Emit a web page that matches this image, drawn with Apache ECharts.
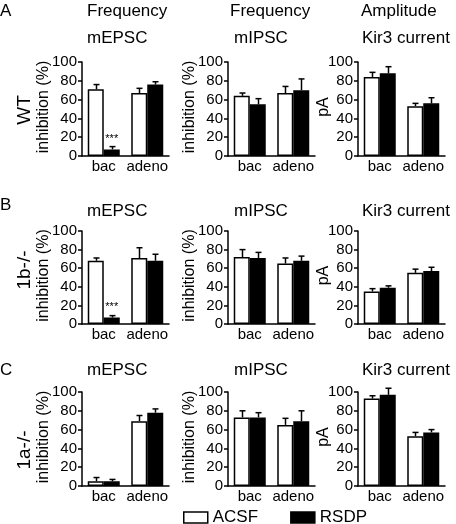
<!DOCTYPE html>
<html>
<head>
<meta charset="utf-8">
<script src="https://cdn.jsdelivr.net/npm/echarts@6/dist/echarts.min.js"></script>
<style>
html,body{margin:0;padding:0;background:#fff;}
#c{width:456px;height:524px;}
</style>
</head>
<body>
<div id="c"></div>
<script>
const categories = ['bac', 'adeno'];
const yTicks = [0, 20, 40, 60, 80, 100];
const seriesNames = ['ACSF', 'RSDP'];

// Row A (WT)
const wtEpscAcsf = [71, 67], wtEpscAcsfErr = [5, 5];
const wtEpscRsdp = [7, 76], wtEpscRsdpErr = [3, 3];
const wtIpscAcsf = [64, 67], wtIpscAcsfErr = [3, 7];
const wtIpscRsdp = [55, 70], wtIpscRsdpErr = [6, 12];
const wtKirAcsf = [84, 53], wtKirAcsfErr = [5, 3];
const wtKirRsdp = [88, 56], wtKirRsdpErr = [7, 6];
// Row B (1b-/-)
const b1EpscAcsf = [68, 71], b1EpscAcsfErr = [3, 11];
const b1EpscRsdp = [7, 68], b1EpscRsdpErr = [2, 7];
const b1IpscAcsf = [72, 65], b1IpscAcsfErr = [8, 6];
const b1IpscRsdp = [71, 68], b1IpscRsdpErr = [6, 5];
const b1KirAcsf = [35, 55], b1KirAcsfErr = [3, 4];
const b1KirRsdp = [39, 57], b1KirRsdpErr = [2, 4];
// Row C (1a-/-)
const a1EpscAcsf = [5, 69], a1EpscAcsfErr = [4, 6];
const a1EpscRsdp = [5, 78], a1EpscRsdpErr = [2, 4];
const a1IpscAcsf = [73, 65], a1IpscAcsfErr = [7, 7];
const a1IpscRsdp = [73, 69], a1IpscRsdpErr = [5, 11];
const a1KirAcsf = [93, 53], a1KirAcsfErr = [3, 4];
const a1KirRsdp = [97, 57], a1KirRsdpErr = [7, 3];

const FONT = "'Liberation Sans', Arial, sans-serif";

const colLefts = [82, 228, 358];
const colWidth = 87;
const rowTops = [62, 231, 392];
const rowHeights = [94, 93, 94];

const panels = [
  {r:0,c:0,acsf:wtEpscAcsf,acsfErr:wtEpscAcsfErr,rsdp:wtEpscRsdp,rsdpErr:wtEpscRsdpErr,star:true},
  {r:0,c:1,acsf:wtIpscAcsf,acsfErr:wtIpscAcsfErr,rsdp:wtIpscRsdp,rsdpErr:wtIpscRsdpErr},
  {r:0,c:2,acsf:wtKirAcsf,acsfErr:wtKirAcsfErr,rsdp:wtKirRsdp,rsdpErr:wtKirRsdpErr},
  {r:1,c:0,acsf:b1EpscAcsf,acsfErr:b1EpscAcsfErr,rsdp:b1EpscRsdp,rsdpErr:b1EpscRsdpErr,star:true},
  {r:1,c:1,acsf:b1IpscAcsf,acsfErr:b1IpscAcsfErr,rsdp:b1IpscRsdp,rsdpErr:b1IpscRsdpErr},
  {r:1,c:2,acsf:b1KirAcsf,acsfErr:b1KirAcsfErr,rsdp:b1KirRsdp,rsdpErr:b1KirRsdpErr},
  {r:2,c:0,acsf:a1EpscAcsf,acsfErr:a1EpscAcsfErr,rsdp:a1EpscRsdp,rsdpErr:a1EpscRsdpErr},
  {r:2,c:1,acsf:a1IpscAcsf,acsfErr:a1IpscAcsfErr,rsdp:a1IpscRsdp,rsdpErr:a1IpscRsdpErr},
  {r:2,c:2,acsf:a1KirAcsf,acsfErr:a1KirAcsfErr,rsdp:a1KirRsdp,rsdpErr:a1KirRsdpErr}
];

const BAR_W = 16;
const grids = [], xAxes = [], yAxes = [], series = [];

function errorSeries(idx, vals, errs, offset) {
  return {
    type: 'custom', xAxisIndex: idx, yAxisIndex: idx, silent: true, z: 1,
    data: vals.map((v, i) => [i, v, errs[i]]),
    renderItem: function (params, api) {
      const p0 = api.coord([api.value(0), api.value(1)]);
      const p1 = api.coord([api.value(0), api.value(1) + api.value(2)]);
      const x = Math.round(p0[0] + offset) + 0.5;
      return {
        type: 'group',
        children: [
          {type: 'line', shape: {x1: x, y1: p0[1], x2: x, y2: p1[1]}, style: {stroke: '#000', lineWidth: 1.5}},
          {type: 'line', shape: {x1: x - 3, y1: p1[1], x2: x + 3, y2: p1[1]}, style: {stroke: '#000', lineWidth: 1.5}}
        ]
      };
    }
  };
}

panels.forEach((p, idx) => {
  grids.push({left: colLefts[p.c], top: rowTops[p.r], width: colWidth, height: rowHeights[p.r], containLabel: false});
  xAxes.push({
    type: 'category', gridIndex: idx, data: categories,
    axisLine: {lineStyle: {color: '#000', width: 1.5}},
    axisTick: {show: false},
    axisLabel: {color: '#000', fontSize: 15, fontFamily: FONT, margin: 3, interval: 0}
  });
  yAxes.push({
    type: 'value', gridIndex: idx, min: yTicks[0], max: yTicks[yTicks.length - 1], interval: 20,
    axisLine: {show: true, lineStyle: {color: '#000', width: 1.5}},
    axisTick: {show: true, length: 4, lineStyle: {color: '#000', width: 1.5}},
    axisLabel: {color: '#000', fontSize: 15, fontFamily: FONT, margin: 5},
    splitLine: {show: false}
  });
  series.push({
    name: seriesNames[0], type: 'bar', xAxisIndex: idx, yAxisIndex: idx,
    barWidth: BAR_W, barGap: '0%', z: 2,
    itemStyle: {color: '#fff', borderColor: '#000', borderWidth: 1.5},
    data: p.acsf
  });
  series.push({
    name: seriesNames[1], type: 'bar', xAxisIndex: idx, yAxisIndex: idx,
    barWidth: BAR_W, barGap: '0%', z: 2,
    itemStyle: {color: '#000', borderColor: '#000', borderWidth: 1.5},
    data: p.rsdp.map((v, i) => (p.star && i === 0) ? {
      value: v,
      label: {show: true, position: 'top', distance: 5, formatter: '***', color: '#000', fontSize: 11, fontFamily: FONT}
    } : v)
  });
  series.push(errorSeries(idx, p.acsf, p.acsfErr, -BAR_W / 2));
  series.push(errorSeries(idx, p.rsdp, p.rsdpErr, BAR_W / 2));
});

function txt(text, x, y, size, rot) {
  const el = {
    type: 'text', x: x, y: y,
    style: {text: text, fill: '#000', font: size + 'px ' + FONT, textAlign: 'left', textVerticalAlign: 'middle'}
  };
  if (rot) {
    el.rotation = Math.PI / 2;
    el.style.textAlign = 'center';
  }
  return el;
}

const yNameX = [44, 190, 324];
const yNames = ['inhibition (%)', 'inhibition (%)', 'pA'];
const graphics = [
  txt('A', 0, 11, 17), txt('B', 0, 205, 17), txt('C', 0, 370, 17),
  txt('Frequency', 87, 11, 17), txt('Frequency', 230, 11, 17), txt('Amplitude', 361, 11, 17),
  txt('mEPSC', 87, 38, 17), txt('mIPSC', 234, 38, 17), txt('Kir3 current', 362, 38, 17),
  txt('mEPSC', 87, 211, 17), txt('mIPSC', 234, 211, 17), txt('Kir3 current', 362, 211, 17),
  txt('mEPSC', 87, 370, 17), txt('mIPSC', 234, 370, 17), txt('Kir3 current', 362, 370, 17),
  txt('WT', 25, 110, 19, true), txt('1b-/-', 25, 270, 19, true), txt('1a-/-', 25, 450, 19, true)
];
rowTops.forEach((t, r) => {
  yNames.forEach((n, c) => {
    graphics.push(txt(n, yNameX[c], t + rowHeights[r] / 2 - 2, 16, true));
  });
});

const chart = echarts.init(document.getElementById('c'), null, {renderer: 'canvas'});
chart.setOption({
  animation: false,
  backgroundColor: '#fff',
  legend: {
    data: seriesNames, left: 178, top: 504, itemWidth: 24, itemHeight: 11, itemGap: 32,
    icon: 'rect',
    textStyle: {color: '#000', fontSize: 17, fontFamily: FONT},
    itemStyle: {borderColor: '#000', borderWidth: 1.5}
  },
  grid: grids, xAxis: xAxes, yAxis: yAxes, series: series,
  graphic: graphics
});
</script>
</body>
</html>
